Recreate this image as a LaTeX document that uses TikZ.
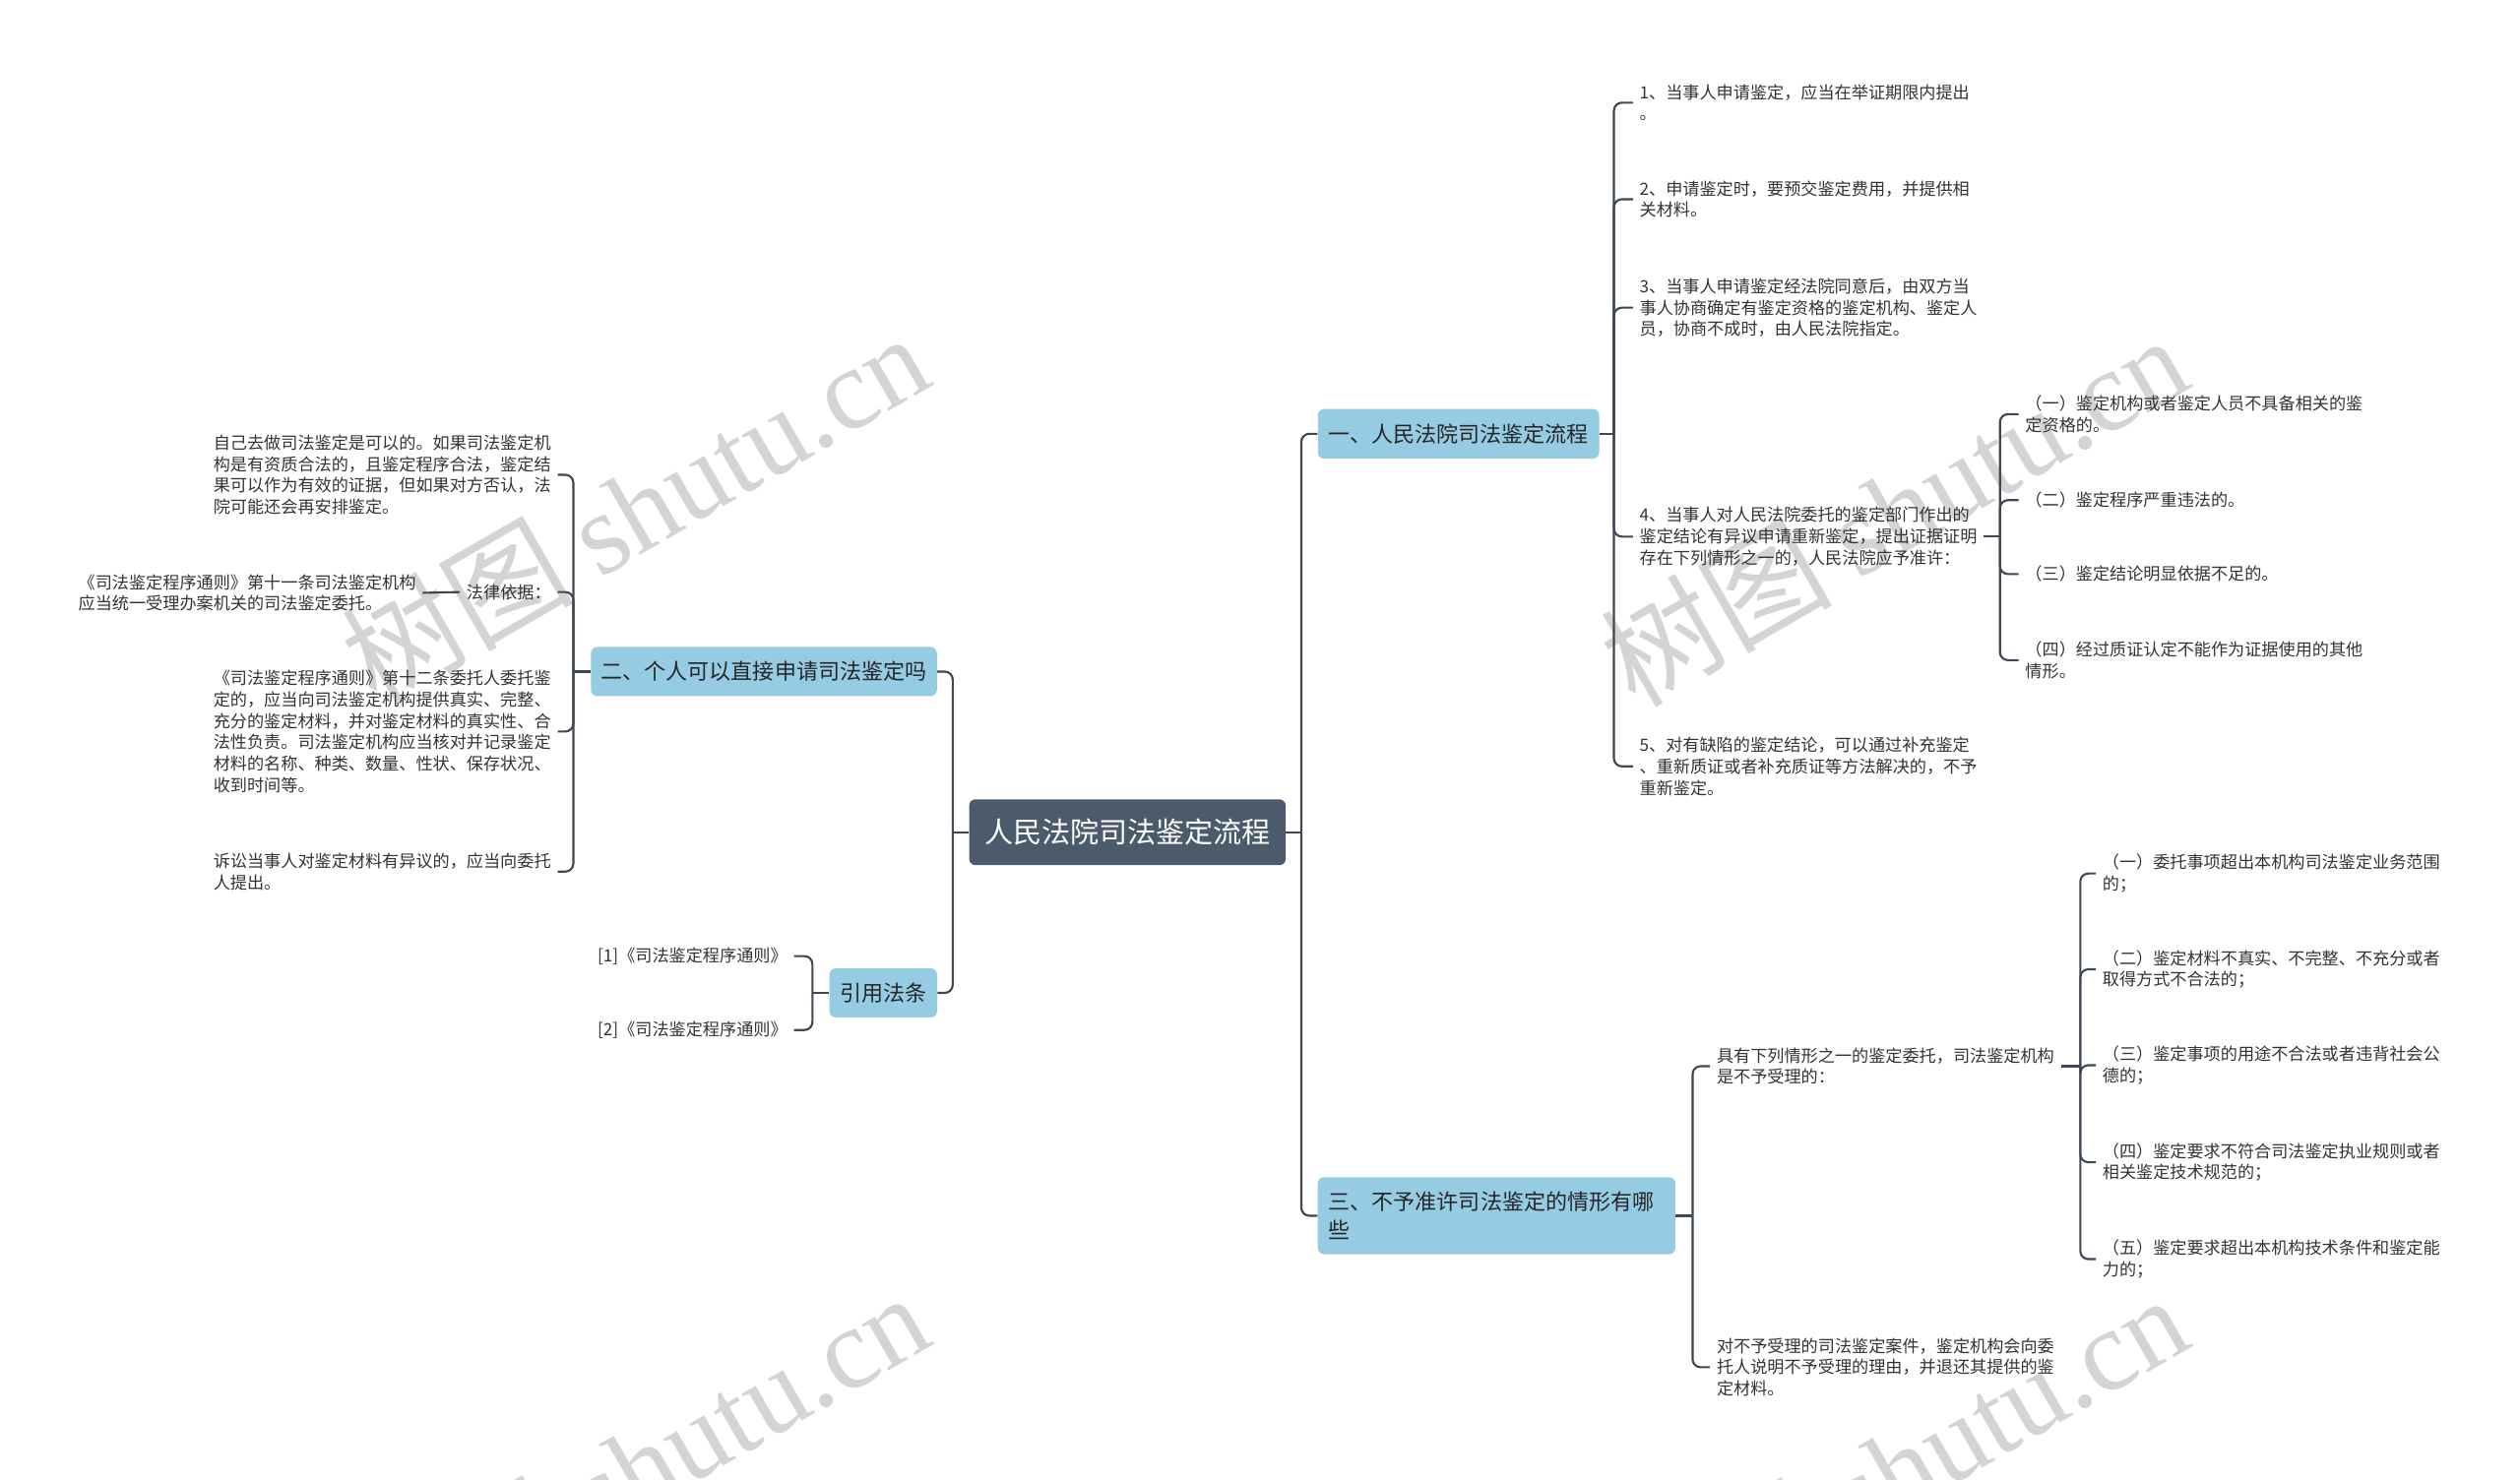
\documentclass[tikz,border=0pt]{standalone}
\usepackage{fontspec}
\setmainfont{Noto Sans CJK SC}
\newfontfamily\wmserif{Liberation Serif}
\usetikzlibrary{calc}
\definecolor{lc}{HTML}{3E4854}
\definecolor{rootc}{HTML}{4B5B6B}
\definecolor{bluec}{HTML}{96CBE4}
\definecolor{txtc}{HTML}{333333}
\definecolor{wmc}{HTML}{D4D4D4}
\begin{document}
\begin{tikzpicture}[x=1pt,y=-1pt,
  leaf/.style={font=\fontsize{10.5}{13.3}\selectfont, text=txtc, align=left, inner xsep=4pt, inner ysep=0pt},
  conn/.style={draw=lc, line width=1.3pt, rounded corners=5pt},
  branch/.style={fill=bluec, rounded corners=4pt, font=\fontsize{13.5}{17.6}\selectfont, text=black!85, inner sep=0pt},
  rootbox/.style={fill=rootc, rounded corners=4pt, font=\fontsize{17.8}{20}\selectfont, text=white, inner sep=0pt},
  wm/.style={text=wmc, font=\fontsize{72}{76}\selectfont, rotate=30, inner sep=0pt}]
\useasboundingbox (0,0) rectangle (1568,921);
\fill[white] (0,0) rectangle (1568,921);
\begin{scope}
\clip (0,0) rectangle (1568,921);
\node[wm] (wm1) at (395,316) {树图 {\wmserif shutu.cn}};
\node[wm] (wm2) at (1178,317) {树图 {\wmserif shutu.cn}};
\node[wm] (wm3) at (395,913) {树图 {\wmserif shutu.cn}};
\node[wm] (wm4) at (1178,914) {树图 {\wmserif shutu.cn}};
\end{scope}

% main nodes
\node[rootbox, minimum width=197pt, minimum height=41pt] (root) at (701.5,518) {人民法院司法鉴定流程};
\node[branch, minimum width=175pt, minimum height=31pt] (b1) at (907.5,270) {一、人民法院司法鉴定流程};
\node[branch, minimum width=215.3pt, minimum height=30.6pt] (b2) at (475.3,418) {二、个人可以直接申请司法鉴定吗};
\node[branch, minimum width=67pt, minimum height=30.6pt] (b4) at (549.6,618) {引用法条};
\node[branch, text width=209pt, inner xsep=6.75pt, minimum height=48pt, align=left] (b3) at (931.2,756.7) {三、不予准许司法鉴定的情形有哪\\些};

% branch 1 leaves
\node[leaf, anchor=west] (r1) at (1016,63.9) {1、当事人申请鉴定，应当在举证期限内提出\\。};
\node[leaf, anchor=west] (r2) at (1016,124) {2、申请鉴定时，要预交鉴定费用，并提供相\\关材料。};
\node[leaf, anchor=west] (r3) at (1016,191.5) {3、当事人申请鉴定经法院同意后，由双方当\\事人协商确定有鉴定资格的鉴定机构、鉴定人\\员，协商不成时，由人民法院指定。};
\node[leaf, anchor=west] (r4) at (1016,334) {4、当事人对人民法院委托的鉴定部门作出的\\鉴定结论有异议申请重新鉴定，提出证据证明\\存在下列情形之一的，人民法院应予准许：};
\node[leaf, anchor=west] (r5) at (1016,477) {5、对有缺陷的鉴定结论，可以通过补充鉴定\\、重新质证或者补充质证等方法解决的，不予\\重新鉴定。};
\node[leaf, anchor=west] (g1) at (1256,257.8) {（一）鉴定机构或者鉴定人员不具备相关的鉴\\定资格的。};
\node[leaf, anchor=west] (g2) at (1256,311.3) {（二）鉴定程序严重违法的。};
\node[leaf, anchor=west] (g3) at (1256,357.3) {（三）鉴定结论明显依据不足的。};
\node[leaf, anchor=west] (g4) at (1256,410.9) {（四）经过质证认定不能作为证据使用的其他\\情形。};

% branch 3 leaves
\node[leaf, anchor=west] (s1) at (1064,663.6) {具有下列情形之一的鉴定委托，司法鉴定机构\\是不予受理的：};
\node[leaf, anchor=west] (s2) at (1064,851) {对不予受理的司法鉴定案件，鉴定机构会向委\\托人说明不予受理的理由，并退还其提供的鉴\\定材料。};
\node[leaf, anchor=west] (t1) at (1304,543.7) {（一）委托事项超出本机构司法鉴定业务范围\\的；};
\node[leaf, anchor=west] (t2) at (1304,603.3) {（二）鉴定材料不真实、不完整、不充分或者\\取得方式不合法的；};
\node[leaf, anchor=west] (t3) at (1304,663) {（三）鉴定事项的用途不合法或者违背社会公\\德的；};
\node[leaf, anchor=west] (t4) at (1304,723.4) {（四）鉴定要求不符合司法鉴定执业规则或者\\相关鉴定技术规范的；};
\node[leaf, anchor=west] (t5) at (1304,783.7) {（五）鉴定要求超出本机构技术条件和鉴定能\\力的；};

% branch 2 leaves
\node[leaf, anchor=east] (l1) at (347,295.5) {自己去做司法鉴定是可以的。如果司法鉴定机\\构是有资质合法的，且鉴定程序合法，鉴定结\\果可以作为有效的证据，但如果对方否认，法\\院可能还会再安排鉴定。};
\node[leaf, anchor=east] (law) at (347,368.5) {法律依据：};
\node[leaf, anchor=east] (l1a) at (263,369) {《司法鉴定程序通则》第十一条司法鉴定机构\\应当统一受理办案机关的司法鉴定委托。};
\node[leaf, anchor=east] (l3) at (347,455.3) {《司法鉴定程序通则》第十二条委托人委托鉴\\定的，应当向司法鉴定机构提供真实、完整、\\充分的鉴定材料，并对鉴定材料的真实性、合\\法性负责。司法鉴定机构应当核对并记录鉴定\\材料的名称、种类、数量、性状、保存状况、\\收到时间等。};
\node[leaf, anchor=east] (l4) at (347,542.5) {诉讼当事人对鉴定材料有异议的，应当向委托\\人提出。};

% branch 4 leaves
\node[leaf, anchor=east] (c1) at (494,595.1) {[1]《司法鉴定程序通则》};
\node[leaf, anchor=east] (c2) at (494,641.1) {[2]《司法鉴定程序通则》};

% connectors
\draw[conn] (root.east) -- ++(9.5,0) coordinate (rt);
\draw[conn] (rt) |- (b1.west);
\draw[conn] (rt) |- (b3.west);
\draw[conn] (root.west) -- ++(-10,0) coordinate (lt);
\draw[conn] (lt) |- (b2.east);
\draw[conn] (lt) |- (b4.east);

\draw[conn] (b1.east) -- ++(9,0) coordinate (b1t);
\foreach \n in {r1,r2,r3,r4,r5} {\draw[conn] (b1t) |- (\n.west);}
\draw[conn] (r4.east) -- ++(10,0) coordinate (r4t);
\foreach \n in {g1,g2,g3,g4} {\draw[conn] (r4t) |- (\n.west);}

\draw[conn] (b3.east) -- ++(10.5,0) coordinate (b3t);
\foreach \n in {s1,s2} {\draw[conn] (b3t) |- (\n.west);}
\draw[conn] (s1.east) -- ++(12,0) coordinate (s1t);
\foreach \n in {t1,t2,t3,t4,t5} {\draw[conn] (s1t) |- (\n.west);}

\draw[conn] (b2.west) -- ++(-10.7,0) coordinate (b2t);
\foreach \n in {l1,law,l3,l4} {\draw[conn] (b2t) |- (\n.east);}
\draw[conn] (law.west) -- (l1a.east);

\draw[conn] (b4.west) -- ++(-10.4,0) coordinate (b4t);
\foreach \n in {c1,c2} {\draw[conn] (b4t) |- (\n.east);}
\end{tikzpicture}
\end{document}
